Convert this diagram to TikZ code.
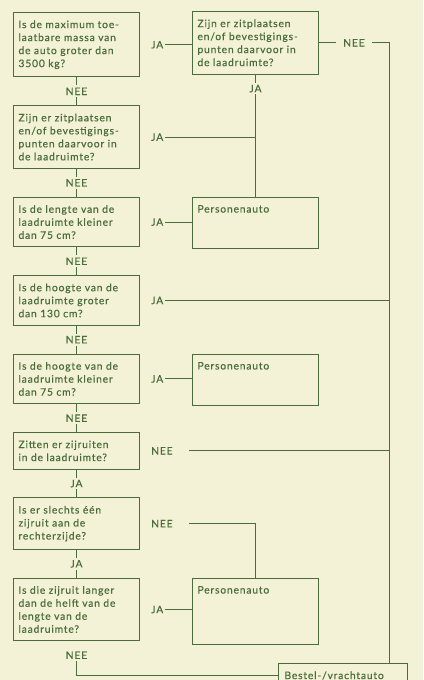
\documentclass[tikz,border=0pt]{standalone}
\usepackage{fontspec}
\setmainfont[LetterSpace=8, FakeBold=0.5]{Lato}
\usetikzlibrary{positioning}
\definecolor{paper}{HTML}{F4F2D6}
\definecolor{ink}{HTML}{4A6D3B}
\tikzset{
  box/.style={draw=ink, line width=1pt, text=ink, text width=116pt, inner xsep=5pt, inner ysep=8pt,
    align=left, font=\fontsize{10.3}{13}\selectfont},
  endbox/.style={box, text depth=28pt},
  lbl/.style={text=ink, inner sep=2pt, text depth=0pt, font=\fontsize{10.3}{13}\selectfont},
  lblwide/.style={lbl, text width=36pt, align=left},
  link/.style={draw=ink, line width=1pt}
}
\begin{document}
\begin{tikzpicture}[x=1pt,y=1pt,node distance=8pt]
  \fill[paper] (0,0) rectangle (423,680);
  \useasboundingbox (0,0) rectangle (423,680);

  % left column: questions
  \node (q1) [box, anchor=north west] at (13,668) {Is de maximum toe-\\laatbare massa van\\de auto groter dan\\3500 kg?};
  \node (n1) [lbl, below=of q1] {NEE};
  \node (q2) [box, below=of n1] {Zijn er zitplaatsen\\en/of bevestigings-\\punten daarvoor in\\de laadruimte?};
  \node (n2) [lbl, below=of q2] {NEE};
  \node (q3) [box, below=of n2] {Is de lengte van de\\laadruimte kleiner\\dan 75 cm?};
  \node (n3) [lbl, below=of q3] {NEE};
  \node (q4) [box, below=of n3] {Is de hoogte van de\\laadruimte groter\\dan 130 cm?};
  \node (n4) [lbl, below=of q4] {NEE};
  \node (q5) [box, below=of n4] {Is de hoogte van de\\laadruimte kleiner\\dan 75 cm?};
  \node (n5) [lbl, below=of q5] {NEE};
  \node (q6) [box, below=of n5] {Zitten er zijruiten\\in de laadruimte?};
  \node (j6) [lbl, below=of q6] {JA};
  \node (q7) [box, below=of j6] {Is er slechts één\\zijruit aan de\\rechterzijde?};
  \node (j7) [lbl, below=of q7] {JA};
  \node (q8) [box, below=of j7] {Is die zijruit langer\\dan de helft van de\\lengte van de\\laadruimte?};
  \node (n8) [lbl, below=of q8] {NEE};

  % right column
  \node (r1) [box, right=52pt of q1.north east, anchor=north west, yshift=1pt] {Zijn er zitplaatsen\\en/of bevestigings-\\punten daarvoor in\\de laadruimte?};
  \node (jr) [lbl, below=of r1] {JA};
  \node (p1) [endbox, right=52pt of q3.north east, anchor=north west] {Personenauto};
  \node (p2) [endbox, right=52pt of q5.north east, anchor=north west] {Personenauto};
  \node (p3) [endbox, text depth=43pt, right=52pt of q8.north east, anchor=north west] {Personenauto};
  \node (best) [box, text width=117pt, inner xsep=6pt, inner ysep=5pt, minimum height=24pt, anchor=north west] at (278,17) {Bestel-/vrachtauto};
  \coordinate (rail) at (389,300);

  % answers beside the questions
  \node (j1) [lbl, right=9pt of q1] {JA};
  \node (j2) [lbl, right=9pt of q2] {JA};
  \node (j3) [lbl, right=9pt of q3] {JA};
  \node (j4) [lbl, right=9pt of q4] {JA};
  \node (j5) [lbl, right=9pt of q5] {JA};
  \node (n6) [lblwide, right=9pt of q6] {NEE};
  \node (n7) [lblwide, right=9pt of q7] {NEE};
  \node (j8) [lbl, right=9pt of q8] {JA};

  \foreach \from/\via/\to in {q1/n1/q2, q2/n2/q3, q3/n3/q4, q4/n4/q5, q5/n5/q6, q6/j6/q7, q7/j7/q8, r1/jr/p1}
    \draw[link] (\from) -- (\via) -- (\to);

  \draw[link] (j1) -- (j1 -| r1.west);
  \draw[link] (r1.east) -- node[lbl, fill=paper, inner xsep=7pt] {NEE} (r1.east -| rail) -- (rail |- best.north);
  \draw[link] (j2) -- (j2 -| jr);
  \draw[link] (j3) -- (j3 -| p1.west);
  \draw[link] (j4) -- (j4 -| rail);
  \draw[link] (j5) -- (j5 -| p2.west);
  \draw[link] (n6) -- (n6 -| rail);
  \draw[link] (n7) -- (n7 -| p3) -- (p3);
  \draw[link] (j8) -- (j8 -| p3.west);
  \draw[link] (n8) -- (n8 |- best) -- (best);
\end{tikzpicture}
\end{document}
